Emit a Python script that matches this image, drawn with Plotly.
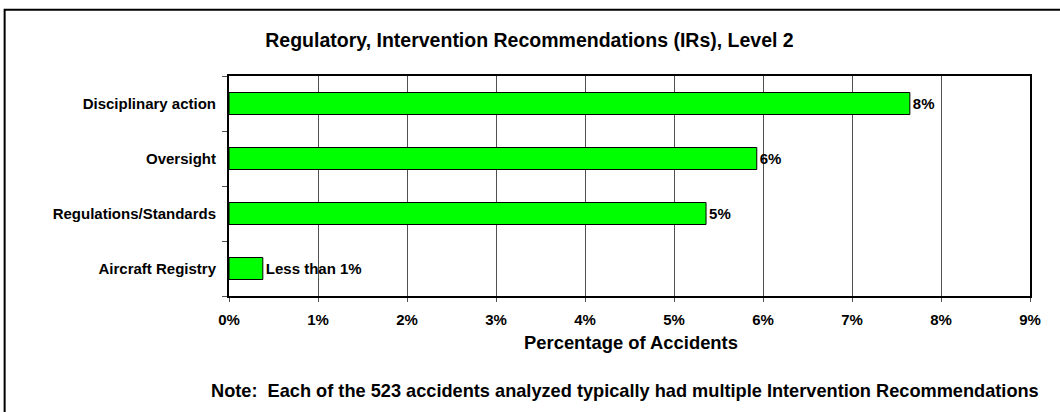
import plotly.graph_objects as go

categories = ["Disciplinary action", "Oversight", "Regulations/Standards", "Aircraft Registry"]
values = [7.65, 5.93, 5.36, 0.38]
bar_labels = ["8%", "6%", "5%", "Less than 1%"]
x_ticks = [0, 1, 2, 3, 4, 5, 6, 7, 8, 9]
x_tick_labels = ["0%", "1%", "2%", "3%", "4%", "5%", "6%", "7%", "8%", "9%"]

title_text = "Regulatory, Intervention Recommendations (IRs), Level 2"
x_title = "Percentage of Accidents"
note_text = "Note:  Each of the 523 accidents analyzed typically had multiple Intervention Recommendations"

FONT = "Liberation Sans, Arial, sans-serif"

W, H = 1060, 412
L, R, T, B = 229, 1030.5, 75.7, 295.7

def px(x):
    return (x - L) / (R - L)

def py(y):
    return (B - y) / (B - T)

fig = go.Figure()
fig.add_trace(go.Bar(
    y=categories, x=values, orientation="h",
    marker=dict(color="#00FF00", line=dict(color="black", width=1)),
    width=0.4,
    text=bar_labels, textposition="outside",
    textfont=dict(family=FONT, size=15, color="black", weight="bold"),
    cliponaxis=False,
    hoverinfo="skip",
))

fig.update_layout(
    width=W, height=H, autosize=False,
    margin=dict(l=L, r=W - R, t=T, b=H - B),
    paper_bgcolor="white", plot_bgcolor="white",
    showlegend=False,
    font=dict(family=FONT, size=15, color="black"),
    title=dict(text=title_text, x=529.5 / W, xref="container", xanchor="center",
               y=1 - 40 / H, yref="container", yanchor="middle",
               font=dict(family=FONT, size=19.5, color="black", weight="bold")),
    xaxis=dict(range=[0, 9], tickvals=x_ticks, ticktext=x_tick_labels,
               showgrid=True, gridcolor="#505050", gridwidth=1,
               zeroline=False,
               showline=True, linecolor="black", linewidth=2, mirror=True,
               ticks="outside", ticklen=4, tickcolor="#505050",
               ticklabelstandoff=5,
               tickfont=dict(family=FONT, size=15, color="black", weight="bold")),
    yaxis=dict(categoryorder="array", categoryarray=categories[::-1],
               range=[-0.5, 3.5],
               showgrid=False, zeroline=False,
               showline=True, linecolor="black", linewidth=2, mirror=True,
               ticks="outside", tickson="boundaries", ticklen=5, tickcolor="#505050",
               ticklabelstandoff=8,
               tickfont=dict(family=FONT, size=15, color="black", weight="bold")),
)

fig.add_annotation(text=x_title, xref="paper", yref="paper",
                   x=px(631), y=py(342), xanchor="center", yanchor="middle",
                   showarrow=False,
                   font=dict(family=FONT, size=18.4, color="black", weight="bold"))
fig.add_annotation(text=note_text, xref="paper", yref="paper",
                   x=px(1042), y=py(391), xanchor="right", yanchor="middle",
                   showarrow=False,
                   font=dict(family=FONT, size=18.2, color="black", weight="bold"))

fig.add_shape(type="rect", xref="paper", yref="paper",
              x0=px(4.5), x1=px(1075), y0=py(430), y1=py(9.5),
              line=dict(color="black", width=2), fillcolor="rgba(0,0,0,0)", layer="below")

fig.write_html("out.html", config={"displayModeBar": False},
               post_script="document.body.style.margin='0';")
